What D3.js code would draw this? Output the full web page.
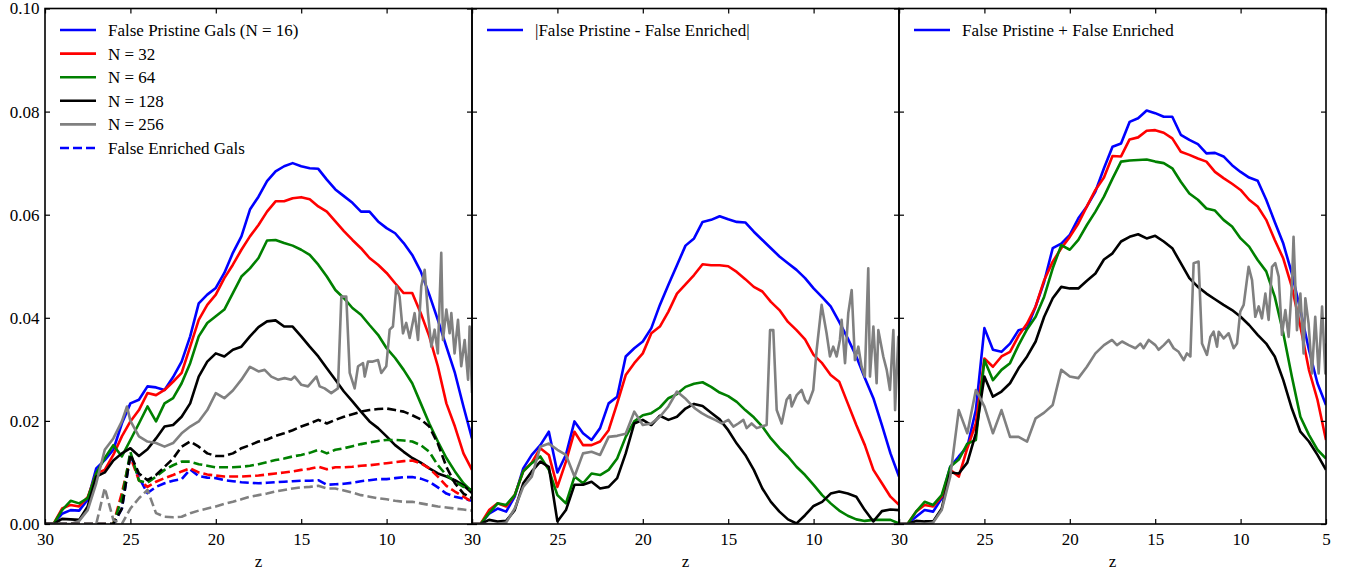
<!DOCTYPE html>
<html><head><meta charset="utf-8">
<script src="https://cdn.jsdelivr.net/npm/d3@7"></script>
<style>
body{margin:0;background:#fff}
text{font-family:"Liberation Serif","Times New Roman",serif;}
</style>
</head><body>
<svg id="c" width="1351" height="577"></svg>
<script>
// ---------- data ----------
const zGrid = [30,29.5,29,28.5,28,27.5,27,26.5,26,25.5,25,24.5,24,23.5,23,22.5,22,21.5,21,20.5,20,19.5,19,18.5,18,17.5,17,16.5,16,15.5,15,14.5,14,13.5,13,12.5,12,11.5,11,10.5,10,9.5,9,8.5,8,7.5,7,6.5,6,5.5,5];

// Panel 1: false pristine (solid)
const pristine16 = [0,0,0.0020,0.0027,0.0026,0.0047,0.0108,0.0124,0.0144,0.0195,0.0234,0.0241,0.0267,0.0265,0.0260,0.0285,0.0315,0.0364,0.0428,0.0445,0.0458,0.0487,0.0526,0.0558,0.0610,0.0635,0.0665,0.0684,0.0694,0.0700,0.0694,0.0690,0.0689,0.0668,0.0649,0.0636,0.0623,0.0606,0.0606,0.0587,0.0574,0.0564,0.0545,0.0522,0.0490,0.0445,0.0396,0.0344,0.0293,0.0228,0.0166];
const pristine32 = [0,0,0.0030,0.0037,0.0034,0.0052,0.0098,0.0105,0.0134,0.0170,0.0199,0.0221,0.0254,0.0250,0.0260,0.0276,0.0293,0.0344,0.0396,0.0425,0.0445,0.0477,0.0503,0.0532,0.0558,0.0580,0.0606,0.0626,0.0626,0.0632,0.0634,0.0630,0.0616,0.0606,0.0587,0.0568,0.0551,0.0535,0.0516,0.0503,0.0487,0.0467,0.0448,0.0448,0.0409,0.0364,0.0306,0.0234,0.0189,0.0137,0.0105];
const pristine64 = [0,0,0.0027,0.0045,0.0040,0.0050,0.0098,0.0128,0.0153,0.0131,0.0163,0.0195,0.0228,0.0199,0.0234,0.0244,0.0273,0.0312,0.0364,0.0390,0.0403,0.0416,0.0448,0.0480,0.0496,0.0516,0.0550,0.0551,0.0545,0.0540,0.0532,0.0522,0.0503,0.0480,0.0454,0.0438,0.0419,0.0406,0.0386,0.0367,0.0341,0.0322,0.0299,0.0273,0.0234,0.0195,0.0160,0.0128,0.0102,0.0079,0.0063];
const pristine128 = [0,0,0.0010,0.0009,0.0008,0.0034,0.0092,0.0100,0.0123,0.0137,0.0147,0.0132,0.0145,0.0166,0.0189,0.0192,0.0208,0.0234,0.0286,0.0315,0.0331,0.0325,0.0338,0.0344,0.0364,0.0382,0.0393,0.0395,0.0383,0.0383,0.0364,0.0344,0.0325,0.0302,0.0280,0.0257,0.0238,0.0218,0.0199,0.0186,0.0170,0.0153,0.0140,0.0128,0.0119,0.0108,0.0098,0.0092,0.0085,0.0075,0.0060];
const zPristine256 = [30,29,28.5,28,27.5,27,26.5,26,25.5,25.2,25,24.5,24,23.5,23,22.5,22,21.5,21,20.5,20,19.5,19,18.5,18,17.5,17.14,16.75,16.36,15.97,15.58,15.38,14.99,14.6,14.11,13.92,13.63,13.24,12.85,12.65,12.36,12.16,11.87,11.67,11.38,11.28,11.09,10.8,10.5,10.31,10.02,9.82,9.63,9.43,9.24,9.04,8.85,8.65,8.36,8.16,7.97,7.77,7.58,7.38,7.19,7.0,6.8,6.7,6.5,6.31,6.21,6.02,5.82,5.63,5.43,5.23,5.14,5.0];
const pristine256 = [0,0,0,0.0006,0.0027,0.0079,0.0144,0.0166,0.0199,0.0228,0.0200,0.0170,0.0160,0.0157,0.0150,0.0157,0.0176,0.0189,0.0199,0.0221,0.0254,0.0244,0.0259,0.0280,0.0305,0.0296,0.0299,0.0286,0.0280,0.0283,0.0280,0.0286,0.0270,0.0267,0.0286,0.0267,0.0263,0.0254,0.0263,0.0441,0.0441,0.0293,0.0263,0.0306,0.0312,0.0286,0.0315,0.0315,0.0318,0.0293,0.0306,0.0377,0.0383,0.0461,0.0441,0.0370,0.0390,0.0361,0.0409,0.0357,0.0461,0.0493,0.0409,0.0344,0.0377,0.0331,0.0526,0.0357,0.0416,0.0370,0.0409,0.0331,0.0396,0.0306,0.0357,0.0280,0.0383,0.0254];

// Panel 1: false enriched (dashed)
const enriched16 = [0,0,0,0,0,0,0,0,0,0.0030,0.0135,0.0090,0.0060,0.0072,0.0079,0.0084,0.0087,0.0106,0.0093,0.0090,0.0089,0.0085,0.0083,0.0081,0.0080,0.0079,0.0080,0.0081,0.0082,0.0083,0.0084,0.0084,0.0085,0.0076,0.0077,0.0078,0.0080,0.0083,0.0085,0.0087,0.0087,0.0089,0.0091,0.0091,0.0088,0.0082,0.0071,0.0059,0.0053,0.0049,0.0045];
const enriched32 = [0,0,0,0,0,0,0,0,0,0.0060,0.0130,0.0085,0.0072,0.0082,0.0089,0.0095,0.0102,0.0108,0.0100,0.0096,0.0094,0.0092,0.0092,0.0092,0.0093,0.0094,0.0096,0.0098,0.0100,0.0102,0.0105,0.0107,0.0111,0.0106,0.0110,0.0110,0.0111,0.0113,0.0114,0.0116,0.0118,0.0120,0.0122,0.0123,0.0118,0.0108,0.0092,0.0074,0.0063,0.0053,0.0043];
const enriched64 = [0,0,0,0,0,0,0,0,0,0.0050,0.0140,0.0084,0.0080,0.0092,0.0105,0.0114,0.0121,0.0121,0.0116,0.0113,0.0110,0.0110,0.0110,0.0111,0.0113,0.0116,0.0120,0.0124,0.0127,0.0131,0.0134,0.0138,0.0144,0.0137,0.0144,0.0147,0.0151,0.0155,0.0158,0.0161,0.0163,0.0163,0.0162,0.0160,0.0153,0.0140,0.0114,0.0095,0.0082,0.0072,0.0066];
const enriched128 = [0,0,0,0,0,0,0,0,0,0.0030,0.0135,0.0098,0.0085,0.0095,0.0111,0.0127,0.0150,0.0160,0.0150,0.0137,0.0132,0.0132,0.0137,0.0147,0.0153,0.0160,0.0164,0.0171,0.0176,0.0182,0.0189,0.0195,0.0202,0.0195,0.0202,0.0208,0.0213,0.0218,0.0221,0.0223,0.0224,0.0221,0.0218,0.0211,0.0203,0.0189,0.0156,0.0111,0.0079,0.0059,0.0050];
const enriched256 = [0,0,0,0,0,0,0,0.0070,0.0008,0.0000,0.0030,0.0050,0.0066,0.0021,0.0014,0.0013,0.0014,0.0021,0.0026,0.0030,0.0034,0.0039,0.0043,0.0048,0.0053,0.0056,0.0059,0.0063,0.0066,0.0069,0.0071,0.0072,0.0074,0.0069,0.0069,0.0065,0.0061,0.0056,0.0053,0.0050,0.0048,0.0045,0.0043,0.0043,0.0040,0.0037,0.0034,0.0032,0.0030,0.0028,0.0026];

// Panel 2: |pristine - enriched|
const diff16 = [0,0,0.0020,0.0030,0.0024,0.0053,0.0108,0.0134,0.0153,0.0179,0.0100,0.0134,0.0199,0.0176,0.0163,0.0186,0.0234,0.0247,0.0325,0.0341,0.0354,0.0380,0.0425,0.0464,0.0502,0.0540,0.0554,0.0586,0.0590,0.0597,0.0591,0.0586,0.0585,0.0567,0.0551,0.0535,0.0519,0.0506,0.0493,0.0477,0.0457,0.0440,0.0422,0.0392,0.0360,0.0325,0.0283,0.0244,0.0192,0.0137,0.0092];
const diff32 = [0,0,0.0027,0.0040,0.0034,0.0056,0.0102,0.0119,0.0147,0.0134,0.0072,0.0121,0.0179,0.0153,0.0153,0.0160,0.0182,0.0234,0.0289,0.0312,0.0331,0.0370,0.0383,0.0412,0.0447,0.0465,0.0483,0.0504,0.0502,0.0502,0.0500,0.0489,0.0475,0.0460,0.0451,0.0431,0.0415,0.0392,0.0376,0.0358,0.0328,0.0312,0.0289,0.0276,0.0234,0.0192,0.0153,0.0105,0.0079,0.0053,0.0037];
const diff64 = [0,0,0.0021,0.0040,0.0037,0.0056,0.0102,0.0118,0.0131,0.0105,0.0056,0.0040,0.0092,0.0079,0.0098,0.0095,0.0105,0.0127,0.0169,0.0199,0.0211,0.0215,0.0226,0.0244,0.0252,0.0266,0.0272,0.0275,0.0266,0.0255,0.0248,0.0237,0.0221,0.0207,0.0189,0.0166,0.0147,0.0131,0.0111,0.0095,0.0076,0.0056,0.0040,0.0026,0.0016,0.0009,0.0006,0.0008,0.0008,0.0008,0.0001];
const diff128 = [0,0,0.0008,0.0005,0.0006,0.0027,0.0079,0.0102,0.0121,0.0111,0.0005,0.0027,0.0076,0.0076,0.0082,0.0069,0.0072,0.0089,0.0137,0.0195,0.0202,0.0192,0.0210,0.0202,0.0208,0.0224,0.0233,0.0229,0.0216,0.0203,0.0182,0.0156,0.0134,0.0105,0.0069,0.0043,0.0024,0.0009,0.0001,0.0017,0.0035,0.0043,0.0059,0.0063,0.0059,0.0053,0.0027,0.0005,0.0025,0.0028,0.0027];
const zDiff256 = [30,28.5,28,27.5,27,26.5,26,25.5,25,24.5,24,23.5,23,22.5,22,21.5,21,20.5,20,19.5,19,18.5,18,17.53,17.24,16.94,16.55,16.16,15.77,15.38,14.99,14.7,14.41,14.11,13.92,13.63,13.33,13.04,12.75,12.55,12.36,12.16,11.87,11.58,11.38,11.28,10.99,10.7,10.5,10.31,10.02,9.82,9.53,9.24,9.04,8.85,8.65,8.46,8.36,8.16,7.97,7.77,7.58,7.38,7.19,7.0,6.8,6.7,6.5,6.31,6.21,5.92,5.72,5.53,5.33,5.23,5.04,5.0];
const diff256 = [0,0,0.0003,0.0030,0.0072,0.0092,0.0150,0.0156,0.0144,0.0134,0.0092,0.0137,0.0140,0.0134,0.0169,0.0171,0.0175,0.0218,0.0192,0.0195,0.0208,0.0228,0.0257,0.0244,0.0234,0.0224,0.0215,0.0208,0.0202,0.0195,0.0202,0.0189,0.0195,0.0202,0.0186,0.0195,0.0186,0.0189,0.0192,0.0376,0.0376,0.0221,0.0195,0.0241,0.0250,0.0228,0.0250,0.0260,0.0241,0.0234,0.0260,0.0338,0.0425,0.0370,0.0325,0.0344,0.0325,0.0357,0.0396,0.0312,0.0409,0.0454,0.0318,0.0344,0.0305,0.0286,0.0496,0.0286,0.0383,0.0273,0.0376,0.0325,0.0299,0.0260,0.0376,0.0221,0.0363,0.0363];

// Panel 3: pristine + enriched
const sum16 = [0,0,0.0014,0.0027,0.0024,0.0050,0.0111,0.0131,0.0150,0.0221,0.0380,0.0338,0.0334,0.0350,0.0376,0.0380,0.0422,0.0470,0.0535,0.0544,0.0561,0.0593,0.0616,0.0645,0.0690,0.0732,0.0738,0.0780,0.0787,0.0802,0.0797,0.0790,0.0790,0.0755,0.0745,0.0737,0.0719,0.0720,0.0713,0.0696,0.0683,0.0672,0.0666,0.0629,0.0586,0.0544,0.0486,0.0415,0.0338,0.0273,0.0231];
const sum32 = [0,0,0.0024,0.0037,0.0034,0.0053,0.0105,0.0092,0.0147,0.0195,0.0321,0.0305,0.0325,0.0334,0.0365,0.0389,0.0422,0.0473,0.0509,0.0535,0.0557,0.0583,0.0616,0.0648,0.0672,0.0714,0.0713,0.0746,0.0750,0.0763,0.0764,0.0759,0.0748,0.0722,0.0716,0.0709,0.0703,0.0683,0.0671,0.0660,0.0648,0.0629,0.0616,0.0590,0.0551,0.0515,0.0460,0.0383,0.0299,0.0241,0.0163];
const sum64 = [0,0,0.0024,0.0043,0.0037,0.0056,0.0111,0.0125,0.0156,0.0163,0.0318,0.0279,0.0299,0.0312,0.0347,0.0378,0.0402,0.0441,0.0496,0.0541,0.0532,0.0551,0.0580,0.0606,0.0635,0.0670,0.0703,0.0705,0.0706,0.0707,0.0703,0.0700,0.0690,0.0664,0.0641,0.0629,0.0612,0.0608,0.0590,0.0577,0.0554,0.0538,0.0512,0.0490,0.0441,0.0370,0.0286,0.0208,0.0173,0.0144,0.0127];
const sum128 = [0,0,0.0006,0.0005,0.0005,0.0030,0.0100,0.0098,0.0119,0.0176,0.0286,0.0247,0.0257,0.0273,0.0302,0.0325,0.0354,0.0402,0.0438,0.0460,0.0457,0.0457,0.0472,0.0486,0.0513,0.0525,0.0548,0.0557,0.0562,0.0554,0.0559,0.0548,0.0535,0.0506,0.0477,0.0460,0.0447,0.0436,0.0425,0.0415,0.0402,0.0386,0.0367,0.0350,0.0325,0.0279,0.0224,0.0179,0.0160,0.0134,0.0105];
const zSum256 = [30,28.5,28,27.5,27,26.5,26,25.5,25,24.5,24,23.5,23,22.5,22,21.5,21,20.5,20,19.5,19,18.5,18,17.53,17.24,16.94,16.55,16.16,15.87,15.68,15.38,14.99,14.8,14.5,14.21,13.92,13.63,13.33,13.14,12.94,12.75,12.46,12.26,11.97,11.77,11.58,11.38,11.28,10.99,10.7,10.41,10.21,10.02,9.82,9.53,9.33,9.14,8.94,8.75,8.55,8.36,8.16,7.97,7.77,7.58,7.38,7.19,7.0,6.9,6.7,6.5,6.31,6.21,6.02,5.82,5.63,5.43,5.23,5.04,5.0];
const sum256 = [0,0,0.0003,0.0027,0.0092,0.0221,0.0176,0.0260,0.0228,0.0176,0.0221,0.0169,0.0169,0.0160,0.0205,0.0216,0.0231,0.0299,0.0286,0.0283,0.0305,0.0331,0.0347,0.0357,0.0347,0.0354,0.0347,0.0341,0.0350,0.0341,0.0357,0.0347,0.0338,0.0347,0.0357,0.0341,0.0334,0.0318,0.0331,0.0325,0.0506,0.0509,0.0350,0.0328,0.0363,0.0373,0.0344,0.0373,0.0360,0.0370,0.0341,0.0350,0.0412,0.0425,0.0499,0.0473,0.0402,0.0422,0.0399,0.0447,0.0396,0.0499,0.0506,0.0480,0.0367,0.0415,0.0363,0.0460,0.0557,0.0376,0.0447,0.0331,0.0438,0.0389,0.0292,0.0402,0.0292,0.0422,0.0292,0.0350];

const xTicks = [30,25,20,15,10,5];
const yTicks = [0,0.02,0.04,0.06,0.08,0.10];
const colors = {n16:"#0000ff", n32:"#ff0000", n64:"#008000", n128:"#000000", n256:"#808080"};
const legend1 = ["False Pristine Gals (N = 16)","N = 32","N = 64","N = 128","N = 256","False Enriched Gals"];
const legend2 = ["|False Pristine - False Enriched|"];
const legend3 = ["False Pristine + False Enriched"];

// ---------- layout ----------
const svg = d3.select("#c");
const W = 427, plotTop = 8.5, plotBottom = 524;
const lefts = [45, 472, 899];
const y = d3.scaleLinear().domain([0, 0.10]).range([plotBottom, plotTop]);
const FONT = 17;

const panels = [
  {series:[
    {z:zGrid, v:pristine16, c:colors.n16},
    {z:zGrid, v:pristine32, c:colors.n32},
    {z:zGrid, v:pristine64, c:colors.n64},
    {z:zGrid, v:pristine128, c:colors.n128},
    {z:zPristine256, v:pristine256, c:colors.n256},
    {z:zGrid, v:enriched16, c:colors.n16, d:true},
    {z:zGrid, v:enriched32, c:colors.n32, d:true},
    {z:zGrid, v:enriched64, c:colors.n64, d:true},
    {z:zGrid, v:enriched128, c:colors.n128, d:true},
    {z:zGrid, v:enriched256, c:colors.n256, d:true}
   ],
   legend:[
    {t:legend1[0], c:colors.n16},{t:legend1[1], c:colors.n32},{t:legend1[2], c:colors.n64},
    {t:legend1[3], c:colors.n128},{t:legend1[4], c:colors.n256},{t:legend1[5], c:colors.n16, d:true}],
   xlab:[30,25,20,15,10], ylab:true},
  {series:[
    {z:zGrid, v:diff16, c:colors.n16},
    {z:zGrid, v:diff32, c:colors.n32},
    {z:zGrid, v:diff64, c:colors.n64},
    {z:zGrid, v:diff128, c:colors.n128},
    {z:zDiff256, v:diff256, c:colors.n256}],
   legend:[{t:legend2[0], c:colors.n16}], xlab:[30,25,20,15,10], ylab:false},
  {series:[
    {z:zGrid, v:sum16, c:colors.n16},
    {z:zGrid, v:sum32, c:colors.n32},
    {z:zGrid, v:sum64, c:colors.n64},
    {z:zGrid, v:sum128, c:colors.n128},
    {z:zSum256, v:sum256, c:colors.n256}],
   legend:[{t:legend3[0], c:colors.n16}], xlab:[30,25,20,15,10,5], ylab:false}
];

panels.forEach((p, i) => {
  const L = lefts[i];
  const x = d3.scaleLinear().domain([30, 5]).range([L, L + W]);
  const g = svg.append("g");
  const clipId = "clip" + i;
  svg.append("clipPath").attr("id", clipId).append("rect")
    .attr("x", L).attr("y", plotTop).attr("width", W).attr("height", plotBottom - plotTop);

  const line = d3.line().x(d => x(d[0])).y(d => y(d[1]));
  const lg = g.append("g").attr("clip-path", `url(#${clipId})`);
  p.series.forEach(s => {
    const pts = s.z.map((z, k) => [z, s.v[k]]);
    lg.append("path").attr("d", line(pts))
      .attr("fill", "none").attr("stroke", s.c).attr("stroke-width", 2.6)
      .attr("stroke-linejoin", "round")
      .attr("stroke-dasharray", s.d ? "9,4" : null);
  });

  const fmtX = d => p.xlab.includes(d) ? d3.format("d")(d) : "";
  const ax = g.append("g").attr("transform", `translate(0,${plotBottom})`)
    .call(d3.axisBottom(x).tickValues(xTicks).tickSize(-5).tickPadding(8.5).tickFormat(fmtX));
  const axT = g.append("g").attr("transform", `translate(0,${plotTop})`)
    .call(d3.axisTop(x).tickValues(xTicks).tickSize(-5).tickFormat(""));
  const ayL = g.append("g").attr("transform", `translate(${L},0)`)
    .call(d3.axisLeft(y).tickValues(yTicks).tickSize(-5).tickPadding(5.5)
      .tickFormat(p.ylab ? d3.format(".2f") : ""));
  const ayR = g.append("g").attr("transform", `translate(${L + W},0)`)
    .call(d3.axisRight(y).tickValues(yTicks).tickSize(-5).tickFormat(""));
  [ax, axT, ayL, ayR].forEach(a => {
    a.select(".domain").remove();
    a.selectAll(".tick line").attr("stroke", "#000").attr("stroke-width", 1.2);
    a.selectAll(".tick text").attr("fill", "#000").style("font-size", FONT + "px")
      .style("font-family", '"Liberation Serif","Times New Roman",serif');
  });

  g.append("rect").attr("x", L).attr("y", plotTop).attr("width", W).attr("height", plotBottom - plotTop)
    .attr("fill", "none").attr("stroke", "#000").attr("stroke-width", 1.6);

  g.append("text").attr("x", L + W / 2).attr("y", 566.5).attr("text-anchor", "middle")
    .style("font-size", FONT + "px").text("z");

  p.legend.forEach((e, k) => {
    const yy = 30 + k * 23.6;
    g.append("line").attr("x1", L + 15).attr("x2", L + 51).attr("y1", yy).attr("y2", yy)
      .attr("stroke", e.c).attr("stroke-width", 2.6)
      .attr("stroke-dasharray", e.d ? "9,4" : null);
    g.append("text").attr("x", L + 63).attr("y", yy).attr("dy", "0.35em")
      .style("font-size", FONT + "px").text(e.t);
  });
});
</script>
</body></html>
